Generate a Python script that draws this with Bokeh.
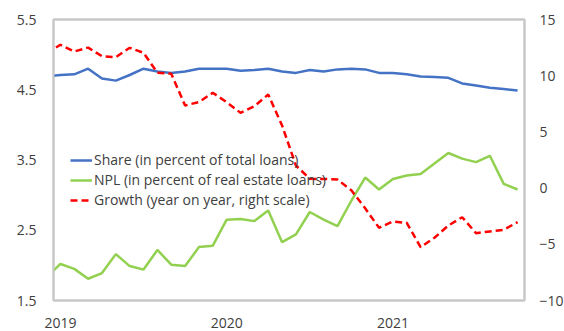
from bokeh.plotting import figure
from bokeh.models import Range1d, LinearAxis, FixedTicker, Legend, LegendItem, ColumnDataSource
from bokeh.embed import file_html
from bokeh.resources import INLINE

# Months (Dec 2018 .. Oct 2021)
months = ["2018-12"] + [f"{y}-{m:02d}" for y in (2019, 2020, 2021) for m in range(1, 13)][:34]

share = [4.69, 4.71, 4.72, 4.80, 4.66, 4.63, 4.71, 4.80, 4.76, 4.74, 4.76, 4.80,
         4.80, 4.80, 4.77, 4.78, 4.80, 4.76, 4.74, 4.78, 4.76, 4.79, 4.80, 4.79,
         4.74, 4.74, 4.72, 4.69, 4.68, 4.67, 4.59, 4.56, 4.53, 4.51, 4.49]

npl = [1.83, 2.02, 1.95, 1.81, 1.89, 2.16, 1.99, 1.94, 2.22, 2.01, 1.99, 2.26,
       2.28, 2.65, 2.66, 2.63, 2.78, 2.33, 2.44, 2.76, 2.65, 2.56, 2.92, 3.25,
       3.08, 3.23, 3.28, 3.30, 3.45, 3.60, 3.52, 3.47, 3.56, 3.16, 3.08]

growth = [12.0, 12.75, 12.15, 12.5, 11.73, 11.65, 12.48, 12.04, 10.26, 10.17, 7.35, 7.66,
          8.48, 7.64, 6.70, 7.29, 8.33, 5.57, 2.01, 0.83, 0.81, 0.77, -0.2, -1.8,
          -3.53, -2.97, -3.09, -5.26, -4.42, -3.33, -2.59, -4.01, -3.86, -3.71, -3.03]

left_ticks = [1.5, 2.5, 3.5, 4.5, 5.5]
right_ticks = [-10, -5, 0, 5, 10, 15]
year_labels = ["2019", "2020", "2021"]

labels = ["Share (in percent of total loans)",
          "NPL (in percent of real estate loans)",
          "Growth (year on year, right scale)"]

x = list(range(len(months)))
year_pos = [i for i, m in enumerate(months) if m.endswith("-01")]

src = ColumnDataSource(dict(x=x, share=share, npl=npl, growth=growth))

FONT = "Open Sans"
TXT = "#404040"
BORDER = "#C8C8C8"

p = figure(frame_width=471, frame_height=281, output_backend="svg", toolbar_location=None,
           x_range=Range1d(0.5, len(months) - 0.5), y_range=Range1d(1.5, 5.5),
           min_border_left=53, min_border_right=10, min_border_top=19, min_border_bottom=10)
p.extra_y_ranges = {"growth": Range1d(-10, 15)}

p.grid.visible = False
p.outline_line_color = BORDER
p.outline_line_width = 2
p.background_fill_color = "white"
p.border_fill_color = "white"

xb = p.below[0]
yl = p.left[0]
yl.ticker = FixedTicker(ticks=left_ticks)
yl.major_label_overrides = {t: f"{t:.1f}" for t in left_ticks}
xb.ticker = FixedTicker(ticks=year_pos)
xb.major_label_overrides = {pos: lab for pos, lab in zip(year_pos, year_labels)}

ra = LinearAxis(y_range_name="growth", ticker=FixedTicker(ticks=right_ticks))
p.add_layout(ra, "right")

top = LinearAxis(ticker=FixedTicker(ticks=[]), major_label_text_font_size="0px")
p.add_layout(top, "above")

for ax in [xb, yl, ra, top]:
    ax.axis_line_color = BORDER
    ax.axis_line_width = 2
    ax.major_tick_line_color = None
    ax.minor_tick_line_color = None
    ax.major_tick_out = 0
    ax.minor_tick_out = 0
    ax.major_tick_in = 0
    ax.minor_tick_in = 0
    ax.major_label_text_font = FONT
    ax.major_label_text_font_size = "14px"
    ax.major_label_text_color = TXT
top.major_label_text_font_size = "0px"
top.major_label_standoff = 0
xb.major_label_standoff = 17
yl.major_label_standoff = 17
ra.major_label_standoff = 15

r1 = p.line("x", "share", source=src, line_color="#4472C4", line_width=2.5)
r2 = p.line("x", "npl", source=src, line_color="#92D050", line_width=2.5)
r3 = p.line("x", "growth", source=src, y_range_name="growth", line_color="#FF0000",
            line_width=2.5, line_dash="7 4")

legend = Legend(items=[LegendItem(label=labels[0], renderers=[r1]),
                       LegendItem(label=labels[1], renderers=[r2]),
                       LegendItem(label=labels[2], renderers=[r3])],
                location=(17, 91), background_fill_alpha=0, border_line_color=None,
                padding=0, margin=0, spacing=1, glyph_width=22, glyph_height=18,
                label_height=18, label_standoff=2,
                label_text_font=FONT, label_text_font_size="14px", label_text_color=TXT)
p.add_layout(legend, "center")

open("out.html", "w").write(file_html(p, INLINE))
